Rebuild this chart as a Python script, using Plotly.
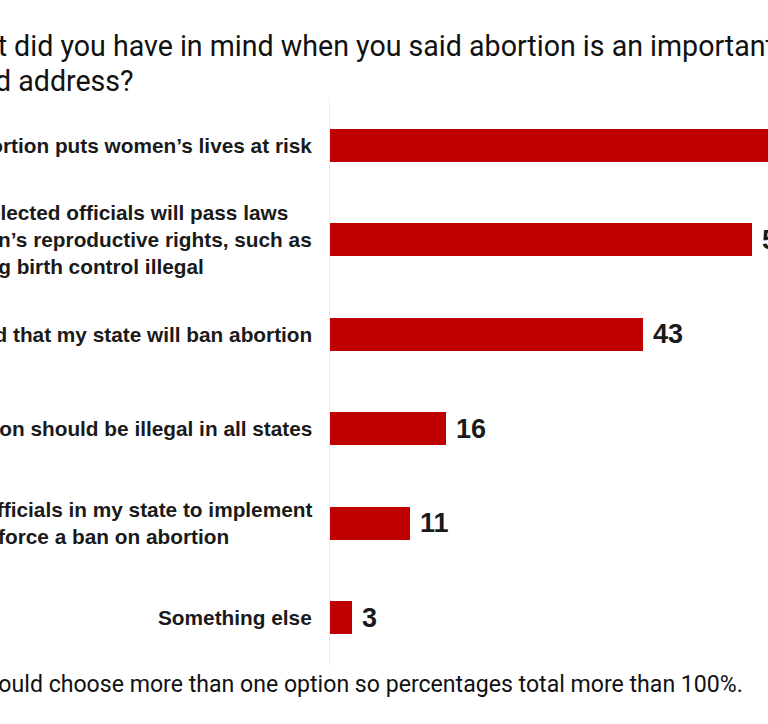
import plotly.graph_objects as go

# ---- data ----
categories = [
    "Banning abortion puts women\u2019s lives at risk",
    "Fearing elected officials will pass laws<br>on women\u2019s reproductive rights, such as<br>by making birth control illegal",
    "Worried that my state will ban abortion",
    "Abortion should be illegal in all states",
    "Urge officials in my state to implement<br>and enforce a ban on abortion",
    "Something else",
]
values = [72, 58, 43, 16, 11, 3]
value_labels = ["72", "58", "43", "16", "11", "3"]

title_lines = [
    "What did you have in mind when you said abortion is an important issue that candidates",
    "could address?",
]
footnote_text = "Note: Respondents could choose more than one option so percentages total more than 100%."

BAR_COLOR = "#C00000"
TEXT_COLOR = "#1a1a1a"

W, H = 768, 724
L, R, T, B = 330, 0, 98, 59
px_per_unit = 7.275
x_max = (W - L - R) / px_per_unit

fig = go.Figure()
fig.add_trace(go.Bar(
    x=values,
    y=list(range(len(categories))),
    orientation="h",
    marker=dict(color=BAR_COLOR, line=dict(width=0)),
    width=0.352,
    hoverinfo="skip",
))

annotations = []
# category labels
for i, c in enumerate(categories):
    annotations.append(dict(
        xref="paper", yref="y", x=0, y=i, xshift=-16,
        xanchor="right", yanchor="middle", align="left",
        text=c, showarrow=False,
        font=dict(family="Liberation Sans, Arial, sans-serif", size=20.8, color=TEXT_COLOR, weight="bold"),
    ))
# value labels
for i, (v, t) in enumerate(zip(values, value_labels)):
    annotations.append(dict(
        xref="x", yref="y", x=v, y=i, xshift=8,
        xanchor="left", yanchor="middle",
        text=t, showarrow=False,
        font=dict(family="Liberation Sans, Arial, sans-serif", size=27, color=TEXT_COLOR, weight="bold"),
    ))
# title (two left-aligned lines)
for line, ys in zip(title_lines, [52, 17]):
    annotations.append(dict(
        xref="paper", yref="paper", x=0, y=1, xshift=-391, yshift=ys,
        xanchor="left", yanchor="middle", align="left",
        text=line, showarrow=False,
        font=dict(family="Roboto, sans-serif", size=28.6, color="#111111"),
    ))
# footnote
annotations.append(dict(
    xref="paper", yref="paper", x=1, y=0, xshift=-23, yshift=-19,
    xanchor="right", yanchor="middle", align="left",
    text=footnote_text, showarrow=False,
    font=dict(family="Roboto, sans-serif", size=23.1, color="#111111"),
))

fig.update_layout(
    width=W, height=H,
    margin=dict(l=L, r=R, t=T, b=B, pad=0),
    paper_bgcolor="white", plot_bgcolor="white",
    showlegend=False,
    annotations=annotations,
    bargap=0,
)
fig.update_xaxes(range=[0, x_max], visible=False, showgrid=False, zeroline=False, fixedrange=True)
fig.update_yaxes(range=[len(categories) - 0.5, -0.5], showgrid=False, zeroline=False,
                 showticklabels=False, ticks="", showline=True, linecolor="#eeeeee", linewidth=1,
                 fixedrange=True)

fig.write_html(
    "out.html",
    config={"displayModeBar": False},
    post_script="document.body.style.margin='0';document.body.style.overflow='hidden';",
)
